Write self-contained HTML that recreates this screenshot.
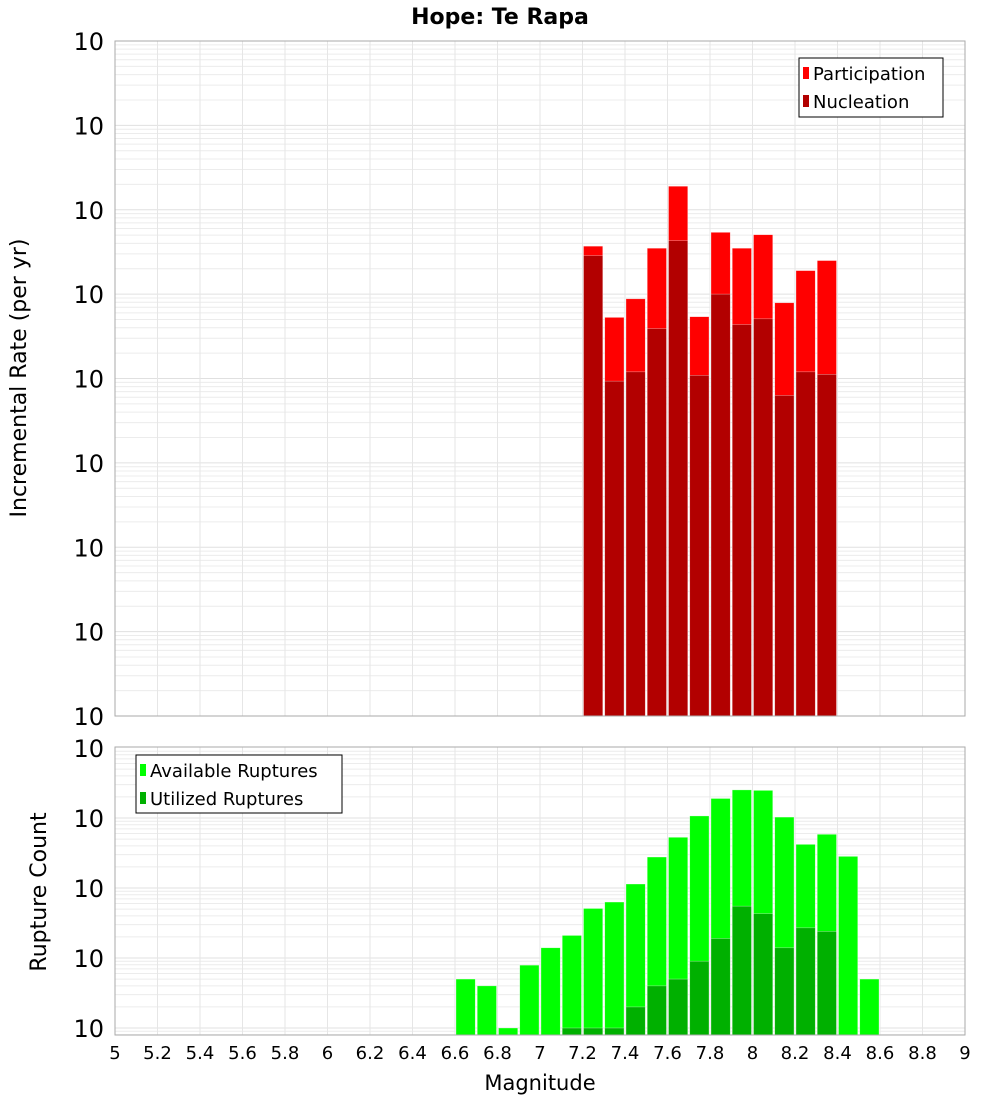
<!DOCTYPE html>
<html><head><meta charset="utf-8"><style>
body{margin:0;background:#fff;}
svg text{font-family:"DejaVu Sans","Liberation Sans",sans-serif;fill:#000;}
</style></head><body>
<svg id="chart" width="1000" height="1100" xmlns="http://www.w3.org/2000/svg">
<text x="500" y="24" font-size="22" font-weight="bold" text-anchor="middle">Hope: Te Rapa</text>
<text transform="translate(26,378) rotate(-90)" font-size="22" text-anchor="middle">Incremental Rate (per yr)</text>
<text transform="translate(46,892) rotate(-90)" font-size="22" text-anchor="middle">Rupture Count</text>
<text x="540" y="1090" font-size="21" text-anchor="middle">Magnitude</text>
<g id="top"></g>
<g id="bot"></g>
<g>
<rect x="799" y="58" width="144" height="59" fill="#fff" stroke="#000" stroke-width="1"/>
<rect x="803" y="67" width="6" height="12" fill="#ff0000"/>
<text x="813" y="80" font-size="18">Participation</text>
<rect x="803" y="95" width="6" height="12" fill="#b20000"/>
<text x="813" y="108" font-size="18">Nucleation</text>
</g>
<g>
<rect x="136" y="755" width="206" height="58" fill="#fff" stroke="#000" stroke-width="1"/>
<rect x="140" y="764" width="6" height="12" fill="#00ff00"/>
<text x="150" y="777" font-size="18">Available Ruptures</text>
<rect x="140" y="792" width="6" height="12" fill="#00b000"/>
<text x="150" y="805" font-size="18">Utilized Ruptures</text>
</g>
</svg>
<script>
const rateBins=[7.25,7.35,7.45,7.55,7.65,7.75,7.85,7.95,8.05,8.15,8.25,8.35];
const participation=[3.7e-5,5.3e-6,8.8e-6,3.5e-5,1.9e-4,5.4e-6,5.4e-5,3.5e-5,5.06e-5,7.9e-6,1.9e-5,2.5e-5];
const nucleation=[2.86e-5,9.3e-7,1.2e-6,3.9e-6,4.3e-5,1.09e-6,1.0e-5,4.36e-6,5.1e-6,6.3e-7,1.2e-6,1.12e-6];
const countBins=[6.65,6.75,6.85,6.95,7.05,7.15,7.25,7.35,7.45,7.55,7.65,7.75,7.85,7.95,8.05,8.15,8.25,8.35,8.45,8.55];
const available=[5,4,1,7.9,14,21,51,63,114,277,530,1070,1900,2520,2480,1030,420,585,283,5];
const utilized=[0,0,0,0,0,1,1,1,2,4,5,9,19,55,43,14,27,24,0,0];
const xTicks=[5,5.2,5.4,5.6,5.8,6,6.2,6.4,6.6,6.8,7,7.2,7.4,7.6,7.8,8,8.2,8.4,8.6,8.8,9];
const rateExps=[-2,-3,-4,-5,-6,-7,-8,-9,-10];
const countExps=[0,1,2,3,4];

const NS="http://www.w3.org/2000/svg";
const L=115,R=965;
const x=m=>L+(m-5)/4*(R-L);
const T1=41,B1=716,yTop=v=>T1+(-2-Math.log10(v))/8*(B1-T1);
const T2=747,B2=1035,yBot=v=>1028-Math.log10(v)*70;
function mk(p,tag,a){const e=document.createElementNS(NS,tag);for(const k in a)e.setAttribute(k,a[k]);p.appendChild(e);return e;}
function grid(g,top,bot,yf,lo,hi){
  mk(g,'rect',{x:L,y:top,width:R-L,height:bot-top,fill:'#fff'});
  for(let d=lo;d<hi;d++)for(let k=1;k<10;k++){const yy=yf(k*Math.pow(10,d));if(yy<top||yy>bot)continue;
    const l=mk(g,'line',{x1:L,x2:R,y1:yy,y2:yy,stroke:k==1?'#e0e0e0':'#ececec','stroke-width':1});
    
    }
  xTicks.forEach(t=>{const l=mk(g,'line',{x1:x(t),x2:x(t),y1:top,y2:bot,stroke:'#e6e6e6'});
    
    });
}
function bars(g,bins,vals,yf,bot,fill,name){
  bins.forEach((m,i)=>{if(!(vals[i]>0))return;const yy=Math.max(yf(vals[i]),0);
    const r=mk(g,'rect',{x:x(m-0.05)+1,y:yy,width:x(m+0.05)-x(m-0.05)-2,height:bot-yy,fill:fill,stroke:'rgba(255,255,255,0.5)','stroke-width':0.6});
    
    });
}
function ylabels(g,exps,yf){
  exps.forEach(e=>{const yy=yf(Math.pow(10,e));const t=mk(g,'text',{x:104,y:yy+9,'font-size':24,'text-anchor':'end'});
    
    
    t.textContent='10';const s=mk(g,'tspan',{dy:-14,'font-size':16});s.textContent=String(e);});
}
const gt=document.getElementById('top');
grid(gt,T1,B1,yTop,-10,-2);
bars(gt,rateBins,participation,yTop,B1,'#ff0000','bar-participation');
bars(gt,rateBins,nucleation,yTop,B1,'#b20000','bar-nucleation');
mk(gt,'rect',{x:L,y:T1,width:R-L,height:B1-T1,fill:'none',stroke:'#aaa'});
ylabels(gt,rateExps,yTop);
const gb=document.getElementById('bot');
grid(gb,T2,B2,yBot,-1,4);
bars(gb,countBins,available,yBot,B2,'#00ff00','bar-available');
bars(gb,countBins,utilized,yBot,B2,'#00b000','bar-utilized');
mk(gb,'rect',{x:L,y:T2,width:R-L,height:B2-T2,fill:'none',stroke:'#aaa'});
ylabels(gb,countExps,yBot);
xTicks.forEach(t=>{const e=mk(gb,'text',{x:x(t),y:1059,'font-size':18,'text-anchor':'middle'});
  
  
  e.textContent=String(t);});
</script>
</body></html>
